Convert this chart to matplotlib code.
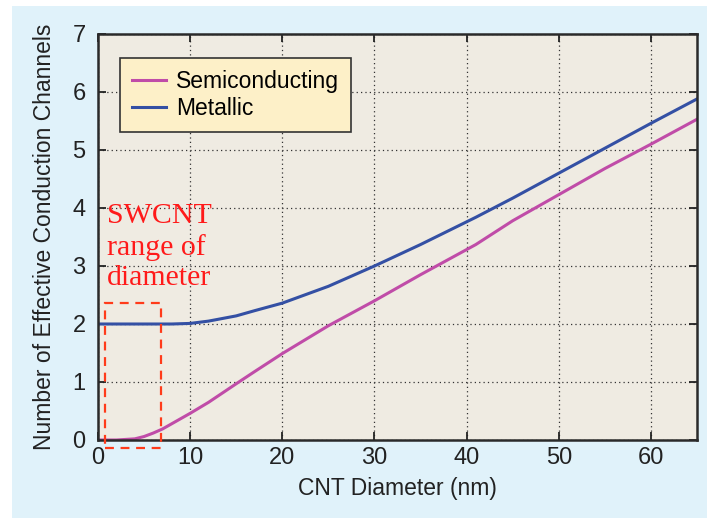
import matplotlib.pyplot as plt
from matplotlib.patches import Rectangle

# values
diam = [0, 2, 4, 5, 6, 7, 8, 10, 12, 15, 17, 20, 25, 30, 35, 41, 45, 50, 55, 60, 65]
semi = [0, 0, 0.02, 0.06, 0.12, 0.19, 0.28, 0.46, 0.65, 0.97, 1.18, 1.49, 1.97, 2.40, 2.85, 3.37, 3.78, 4.23, 4.68, 5.10, 5.53]
metal = [2.0, 2.0, 2.0, 2.0, 2.0, 2.0, 2.0, 2.01, 2.05, 2.14, 2.23, 2.36, 2.65, 3.0, 3.37, 3.84, 4.17, 4.60, 5.03, 5.46, 5.88]
xticks = [0, 10, 20, 30, 40, 50, 60]
yticks = [0, 1, 2, 3, 4, 5, 6, 7]
box_x = [0.75, 6.8]
box_y = [-0.14, 2.36]

plt.rcParams['font.family'] = ['Liberation Sans', 'DejaVu Sans']

fig = plt.figure(figsize=(7.07, 5.20), dpi=100)
fig.patch.set_facecolor('white')
# light blue panel behind the plot
fig.patches.append(Rectangle((12 / 707, 2 / 520), 695 / 707, 512 / 520,
                             transform=fig.transFigure, facecolor='#e0f2fa',
                             edgecolor='none', zorder=-10))

ax = fig.add_axes([98 / 707, 80 / 520, 599 / 707, 406 / 520])
ax.set_facecolor('#efebe2')

ax.plot(diam, semi, color='#c04ca8', lw=2.2, label='Semiconducting')
ax.plot(diam, metal, color='#3450a4', lw=2.2, label='Metallic')

ax.set_xlim(0, 65)
ax.set_ylim(0, 7)
ax.set_xticks(xticks)
ax.set_yticks(yticks)
ax.grid(True, color='#333333', linestyle=(0, (1, 2.5)), linewidth=0.9)
ax.tick_params(direction='in', length=6, width=1.3, labelsize=17, colors='#222222',
               top=True, right=True)
ax.tick_params(axis='x', pad=5)
ax.tick_params(axis='y', pad=9)
for s in ax.spines.values():
    s.set_linewidth(1.8)
    s.set_color('#2a2a2a')

ax.set_xlabel('CNT Diameter (nm)', fontsize=16.5, color='#222222', labelpad=6)
ax.set_ylabel('Number of Effective Conduction Channels', fontsize=16.5, color='#222222', labelpad=12)

leg = ax.legend(loc='upper left', bbox_to_anchor=(0.037, 0.94), fontsize=16.5,
                frameon=True, fancybox=False, handlelength=1.5, borderpad=0.5,
                labelspacing=0.2, handletextpad=0.45, borderaxespad=0)
leg.get_frame().set_facecolor('#fdf0c8')
leg.get_frame().set_edgecolor('#333333')
leg.get_frame().set_linewidth(1.2)
leg.get_frame().set_alpha(1)

# dashed box marking the SWCNT range
ax.add_patch(Rectangle((box_x[0], box_y[0]), box_x[1] - box_x[0], box_y[1] - box_y[0],
                       fill=False, edgecolor='#ff3b1a', linestyle=(0, (4, 3)),
                       linewidth=1.6, clip_on=False, zorder=5))
ax.text(1.0, 4.08, 'SWCNT\nrange of\ndiameter', color='#ff1a1a', fontsize=21.5,
        family=['Liberation Serif', 'DejaVu Serif'], va='top', ha='left',
        linespacing=1.22)

fig.savefig('out.png', dpi=100, facecolor=fig.get_facecolor())
